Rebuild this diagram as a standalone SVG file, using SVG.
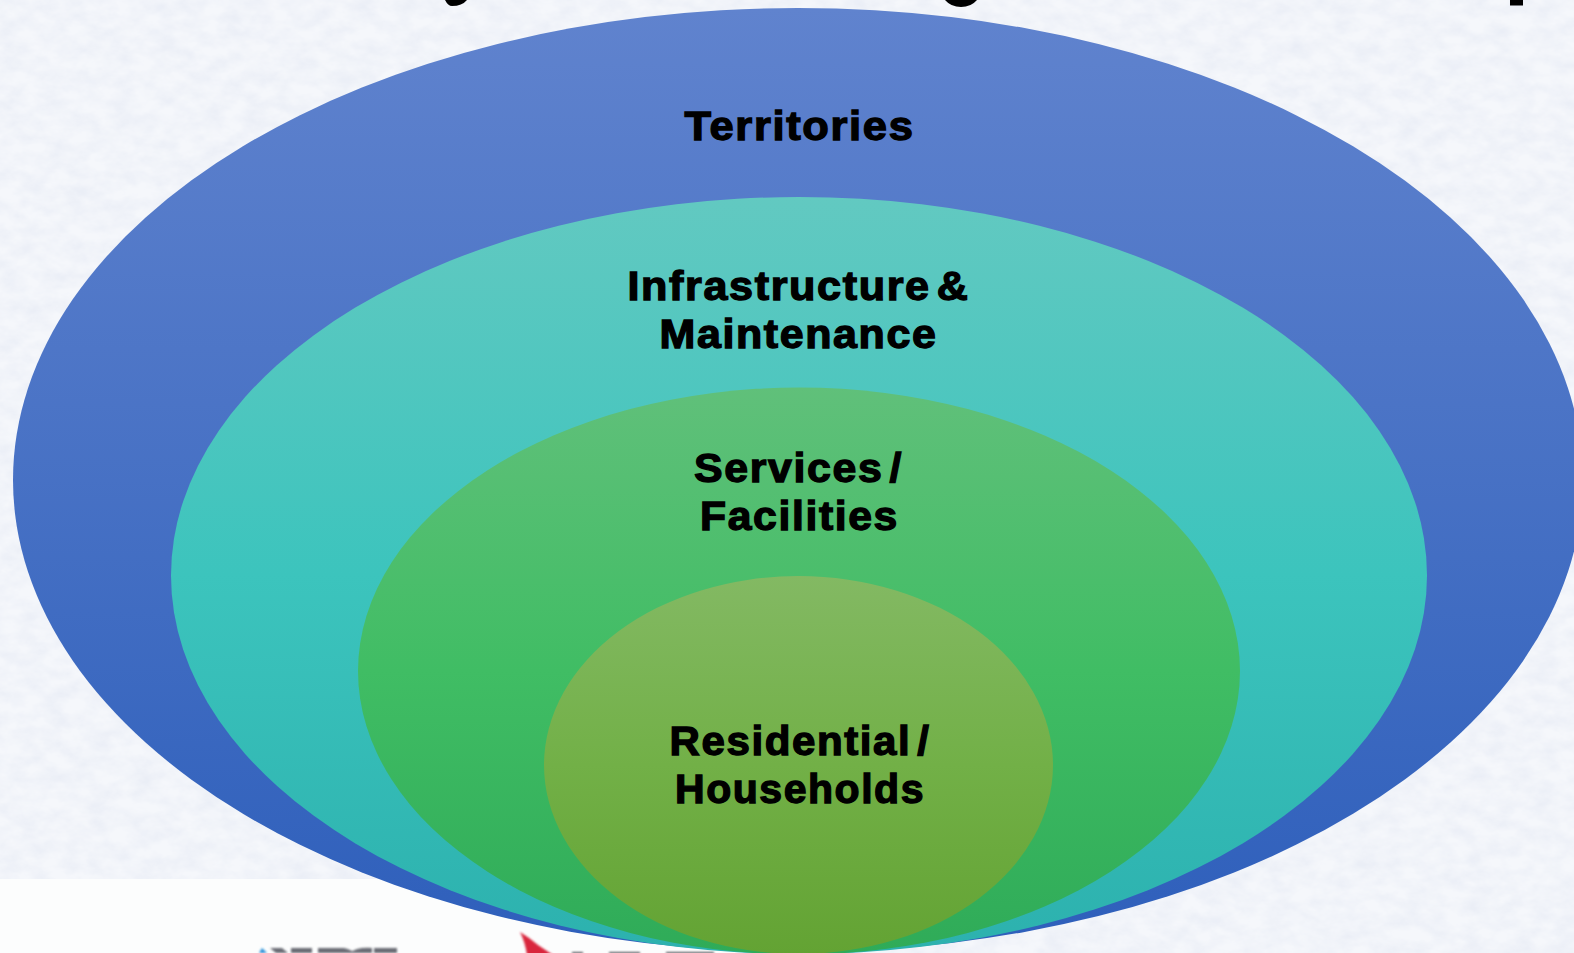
<svg xmlns="http://www.w3.org/2000/svg" width="1574" height="953" viewBox="0 0 1574 953">
<style>
.l{font-family:"Liberation Sans",Arial,sans-serif;font-weight:700;font-size:40px;fill:#000;stroke:#000;stroke-width:1.3px;letter-spacing:1.5px;word-spacing:-7px}
</style>
<defs>
<linearGradient id="g1" x1="0" y1="0" x2="0" y2="1"><stop offset="0" stop-color="#6083ce"/><stop offset="1" stop-color="#2e5fbb"/></linearGradient>
<linearGradient id="g2" x1="0" y1="0" x2="0" y2="1"><stop offset="0" stop-color="#62c9c1"/><stop offset=".5" stop-color="#3cc4bd"/><stop offset="1" stop-color="#2cb1ae"/></linearGradient>
<linearGradient id="g3" x1="0" y1="0" x2="0" y2="1"><stop offset="0" stop-color="#60c07a"/><stop offset=".5" stop-color="#40bd64"/><stop offset="1" stop-color="#2fab58"/></linearGradient>
<linearGradient id="g4" x1="0" y1="0" x2="0" y2="1"><stop offset="0" stop-color="#83b963"/><stop offset=".5" stop-color="#72b047"/><stop offset="1" stop-color="#63a333"/></linearGradient>
<filter id="paper" x="0" y="0" width="100%" height="100%">
<feTurbulence type="fractalNoise" baseFrequency="0.045 0.07" numOctaves="5" seed="7"/>
<feColorMatrix type="matrix" values="0 0 0 0 0.82  0 0 0 0 0.85  0 0 0 0 0.92  1.6 0 0 0 -0.48"/>
</filter>
<filter id="soft" x="-5%" y="-50%" width="110%" height="200%"><feGaussianBlur stdDeviation="0.8"/></filter>
<filter id="edge" x="-2%" y="-5%" width="104%" height="110%"><feGaussianBlur stdDeviation="0.6"/></filter>
</defs>
<g id="background">
<rect width="1574" height="953" fill="#f5f7fb"/>
<rect width="1574" height="953" filter="url(#paper)"/>
<rect x="0" y="879" width="800" height="80" fill="#fcfdfd" filter="url(#edge)"/>
</g>
<g id="title-fragments" fill="#000">
<path d="M445 0H467Q462 6 452 6Q448 6 445 0Z"/>
<path d="M945 0H977Q971 7 961 7Q951 7 945 0Z"/>
<rect x="1510" y="0" width="13" height="5.5"/>
</g>
<g id="logo-fragments" filter="url(#soft)">
<path d="M259 953L262 948L267 953Z" fill="#2b8fd8"/>
<path d="M270 948H282L288 953H276Z" fill="#6a6c74"/>
<path d="M291 948H312V953H291Z" fill="#6a6c74"/>
<path d="M318 948H344Q352 950 354 953H318Z" fill="#6a6c74"/>
<path d="M350 953Q356 947 372 948V953Z" fill="#6a6c74"/>
<rect x="374" y="948" width="23" height="5" fill="#6a6c74"/>
<path d="M520 932Q530 938 538 945L553 955H527Q525 942 520 932Z" fill="#d9283c"/>
<rect x="572" y="952" width="11" height="2" fill="#55575c"/>
<rect x="609" y="952" width="31" height="2" fill="#55575c"/>
<rect x="666" y="952" width="48" height="2" fill="#55575c"/>
</g>
<g id="territories"><ellipse cx="798" cy="480" rx="785" ry="472" fill="url(#g1)"/></g>
<g id="infrastructure"><ellipse cx="799" cy="575.5" rx="628" ry="378.5" fill="url(#g2)"/></g>
<g id="services"><ellipse cx="799" cy="671" rx="441" ry="283.5" fill="url(#g3)"/></g>
<g id="residential"><ellipse cx="798.5" cy="765" rx="254.5" ry="189" fill="url(#g4)"/></g>
<g id="labels">
<text class="l" x="684.5" y="140" textLength="230" lengthAdjust="spacingAndGlyphs">Territories</text>
<text class="l" x="627.5" y="300" textLength="342" lengthAdjust="spacingAndGlyphs">Infrastructure &amp;</text>
<text class="l" x="659.5" y="348" textLength="278" lengthAdjust="spacingAndGlyphs">Maintenance</text>
<text class="l" x="694" y="482" textLength="209" lengthAdjust="spacingAndGlyphs">Services /</text>
<text class="l" x="700" y="530" textLength="199" lengthAdjust="spacingAndGlyphs">Facilities</text>
<text class="l" x="669.5" y="755" textLength="261" lengthAdjust="spacingAndGlyphs">Residential /</text>
<text class="l" x="675" y="803" textLength="250" lengthAdjust="spacingAndGlyphs">Households</text>
</g>
</svg>
